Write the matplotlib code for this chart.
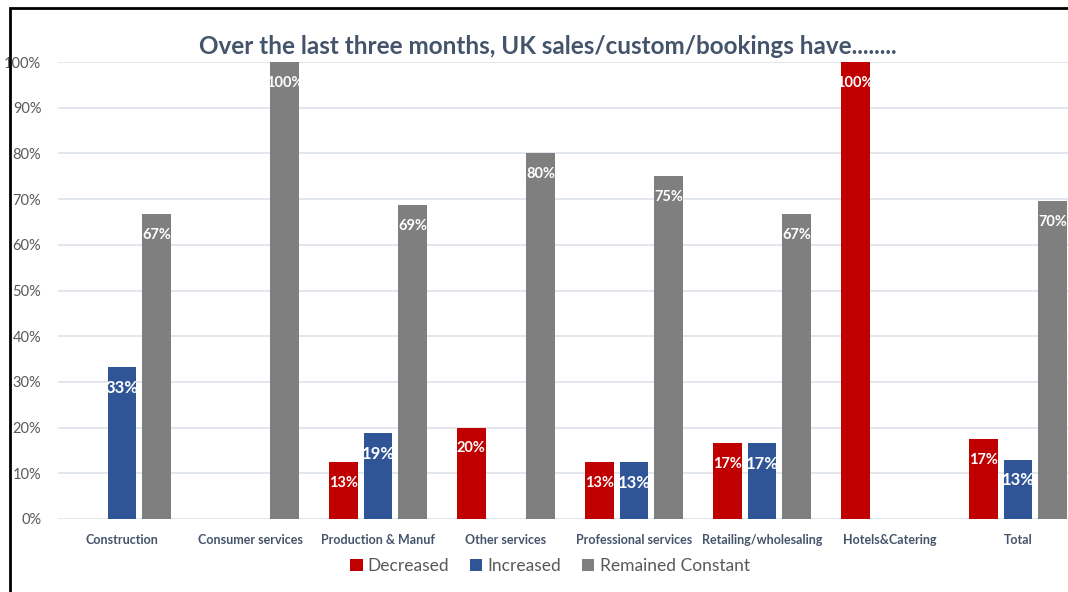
import numpy as np
import matplotlib.pyplot as plt
from matplotlib.patches import Rectangle
from matplotlib.ticker import PercentFormatter

categories = ['Construction', 'Consumer services', 'Production & Manuf', 'Other services',
              'Professional services', 'Retailing/wholesaling', 'Hotels&Catering', 'Total']
decreased = [0.0, 0.0, 12.5, 20.0, 12.5, 16.7, 100.0, 17.4]
increased = [33.3, 0.0, 18.75, 0.0, 12.5, 16.7, 0.0, 13.0]
remained = [66.7, 100.0, 68.75, 80.0, 75.0, 66.7, 0.0, 69.6]
series_names = ['Decreased', 'Increased', 'Remained Constant']
colors = ['#C00000', '#2F5597', '#7F7F7F']

plt.rcParams['font.family'] = ['Lato', 'DejaVu Sans']

W, H = 1068, 592
fig = plt.figure(figsize=(W / 100, H / 100), dpi=100)
# plot area runs a bit past the right edge, as in the cropped original
ax = fig.add_axes([58 / W, (H - 519) / H, 1024 / W, 457 / H])

x = np.arange(len(categories))
step = 0.272
width = 0.225
label_sizes = [10.5, 12, 10.5]
for i, (vals, name, col) in enumerate(zip([decreased, increased, remained], series_names, colors)):
    pos = x + (i - 1) * step
    bars = ax.bar(pos, vals, width, color=col, label=name, zorder=3)
    for b, v in zip(bars, vals):
        if v <= 0:
            continue
        # excel rounds half up (12.5 -> 13)
        ax.annotate(f'{int(v + 0.5)}%', (b.get_x() + b.get_width() / 2, v),
                    xytext=(0, -15), textcoords='offset points',
                    ha='center', va='center', color='white',
                    fontsize=label_sizes[i], fontweight='bold', zorder=4)

ax.set_xlim(-0.5, len(categories) - 0.5)
ax.set_ylim(0, 100)
ax.set_yticks(np.arange(0, 101, 10))
ax.yaxis.set_major_formatter(PercentFormatter(decimals=0))
ax.set_xticks(x)
ax.set_xticklabels(categories, fontsize=9, fontweight='bold', color='#44546A')
ax.tick_params(axis='y', labelsize=10.5, labelcolor='#595959', length=0, pad=12)
ax.tick_params(axis='x', length=0, pad=11)
ax.grid(axis='y', color='#DDE3EA', linewidth=1.2, zorder=0)
for s in ax.spines.values():
    s.set_visible(False)

fig.text(548 / W, 1 - 46 / H, 'Over the last three months, UK sales/custom/bookings have........',
         ha='center', va='center', fontsize=17.5, fontweight='bold', color='#44546A')

fig.legend(loc='center', bbox_to_anchor=(550 / W, 1 - 566 / H), ncol=3, frameon=False,
           fontsize=12.5, handlelength=0.7, handleheight=0.7, handletextpad=0.3,
           columnspacing=1.2, labelcolor='#595959')

# black frame around the picture (right/bottom cropped off)
fig.patches.append(Rectangle((10 / W, -0.05), 1.2, 1 - 8 / H + 0.05, transform=fig.transFigure,
                             fill=False, edgecolor='black', linewidth=2, zorder=10))

fig.savefig('out.png', dpi=100, facecolor='white')
